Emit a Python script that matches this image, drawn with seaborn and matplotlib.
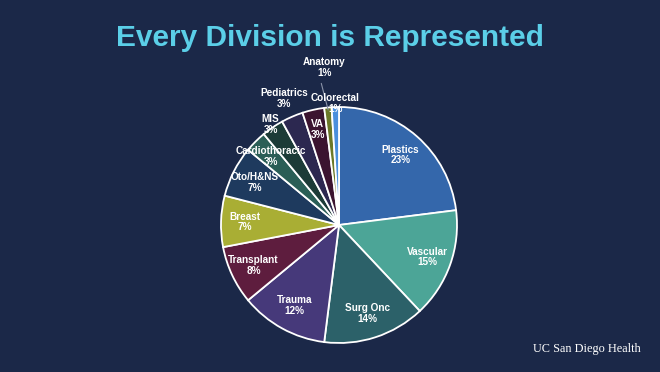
import numpy as np
import matplotlib.pyplot as plt
import seaborn as sns

# data
divisions = ['Plastics', 'Vascular', 'Surg Onc', 'Trauma', 'Transplant', 'Breast',
             'Oto/H&NS', 'Cardiothoracic', 'MIS', 'Pediatrics', 'VA', 'Anatomy', 'Colorectal']
shares = [23, 15, 14, 12, 8, 7, 7, 3, 3, 3, 3, 1, 1]

slice_colors = ['#3467AB', '#4CA597', '#2C6169', '#46397A', '#5E1D3E', '#A9AE34',
                '#1E3A5E', '#2A5E56', '#1C3B37', '#2C2850', '#3B1430', '#6B7828', '#4A8FDD']

# label radius (fraction of pie radius) per slice
label_r = [0.79, 0.80, 0.79, 0.78, 0.80, 0.80, 0.80, 0.82, 1.03, 1.17, 0.83, 1.34, 1.03]

bg = '#1B2848'
sns.set_theme(style='white')
plt.rcParams['font.family'] = ['Liberation Sans', 'DejaVu Sans']

fig = plt.figure(figsize=(6.6, 3.72), dpi=100, facecolor=bg)
W, H = 660, 372
cx, cy, R = 339, 225, 118
ax = fig.add_axes([(cx - R) / W, (H - cy - R) / H, 2 * R / W, 2 * R / H])
ax.set_facecolor(bg)

wedges, _ = ax.pie(shares, colors=sns.color_palette(slice_colors), startangle=90,
                   counterclock=False, radius=1,
                   wedgeprops=dict(edgecolor='white', linewidth=1.3))
ax.set_xlim(-1, 1)
ax.set_ylim(-1, 1)
ax.set_aspect('equal')
ax.axis('off')

for w, name, pct, r in zip(wedges, divisions, shares, label_r):
    ang = np.deg2rad((w.theta1 + w.theta2) / 2)
    x, y = r * np.cos(ang), r * np.sin(ang)
    ax.text(x, y, f'{name}\n{pct}%', ha='center', va='center', color='white',
            fontsize=7.2, fontweight='bold', linespacing=1.1, clip_on=False)

# leader line for Anatomy
w = wedges[11]
ang = np.deg2rad((w.theta1 + w.theta2) / 2)
ax.plot([-0.15, 0.98 * np.cos(ang)], [1.2, 0.98 * np.sin(ang)],
        color='#8A93A8', lw=0.8, clip_on=False)

fig.text(0.5, 1 - 38 / H, 'Every Division is Represented', ha='center', va='center',
         color='#5BCFE8', fontsize=21.5, fontweight='bold')
fig.text(533 / W, 1 - 349 / H, 'UC San Diego Health', ha='left', va='center',
         color='white', fontsize=8.8, family=['Liberation Serif', 'DejaVu Serif'])

fig.savefig('out.png', dpi=100, facecolor=bg)
